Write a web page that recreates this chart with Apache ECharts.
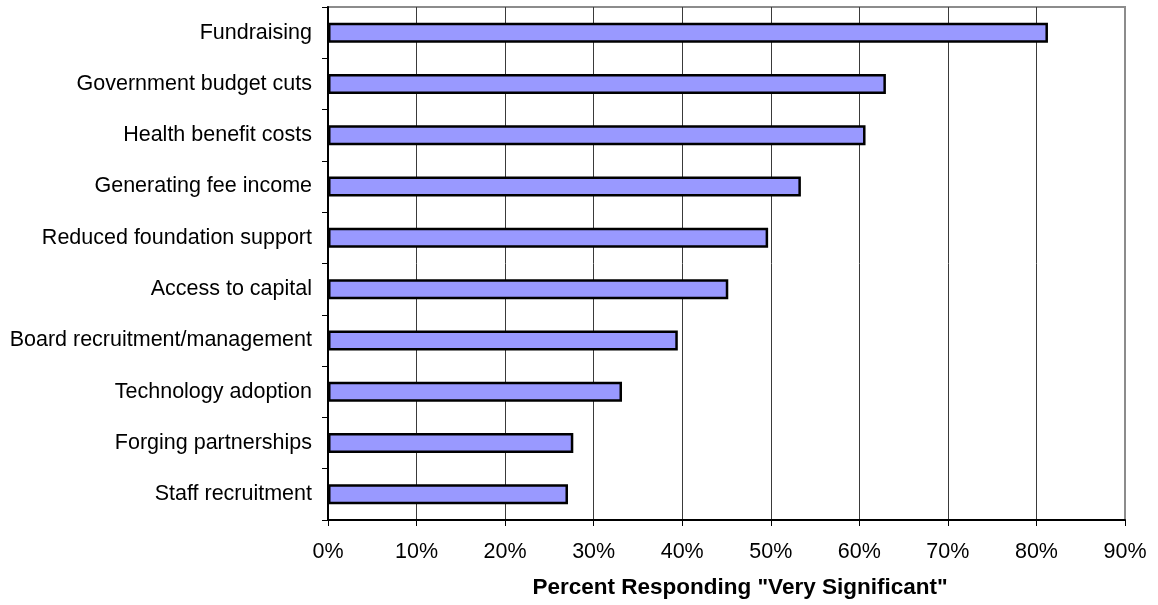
<!DOCTYPE html>
<html>
<head>
<meta charset="utf-8">
<script src="https://cdn.jsdelivr.net/npm/echarts@6/dist/echarts.min.js"></script>
<style>
  html, body { margin: 0; padding: 0; background: #ffffff; }
  #chart { width: 1158px; height: 605px; }
</style>
</head>
<body>
<div id="chart"></div>
<script>
// Challenges rated "very significant", top to bottom
const categories = [
  'Fundraising',
  'Government budget cuts',
  'Health benefit costs',
  'Generating fee income',
  'Reduced foundation support',
  'Access to capital',
  'Board recruitment/management',
  'Technology adoption',
  'Forging partnerships',
  'Staff recruitment'
];
const percentVerySignificant = [81.3, 63.0, 60.7, 53.4, 49.7, 45.2, 39.5, 33.2, 27.7, 27.1];
const xTicks = { min: 0, max: 90, step: 10 };
const axisTitle = 'Percent Responding "Very Significant"';

const FONT = '"Liberation Sans", Arial, sans-serif';

const chart = echarts.init(document.getElementById('chart'), null, { renderer: 'canvas' });

chart.setOption({
  animation: false,
  backgroundColor: '#ffffff',
  grid: {
    left: 328,
    right: 33,
    top: 7,
    bottom: 85,
    show: true,
    borderColor: '#8c8c8c',
    borderWidth: 2,
    backgroundColor: 'transparent'
  },
  xAxis: {
    type: 'value',
    min: xTicks.min,
    max: xTicks.max,
    interval: xTicks.step,
    axisLine: { show: true, lineStyle: { color: '#000', width: 2 } },
    axisTick: { show: true, length: 6, lineStyle: { color: '#000', width: 1 } },
    axisLabel: {
      formatter: '{value}%',
      margin: 21,
      color: '#000',
      fontFamily: FONT,
      fontSize: 21.5
    },
    splitLine: {
      show: true,
      showMinLine: false,
      showMaxLine: false,
      lineStyle: { color: '#3a3a3a', width: 1 }
    }
  },
  yAxis: {
    type: 'category',
    data: categories,
    inverse: true,
    axisLine: { show: true, lineStyle: { color: '#000', width: 2 } },
    axisTick: { show: true, length: 6, lineStyle: { color: '#000', width: 1 } },
    axisLabel: {
      margin: 16,
      color: '#000',
      fontFamily: FONT,
      fontSize: 21.5
    },
    splitLine: { show: false }
  },
  graphic: [{
    type: 'text',
    x: 740,
    y: 588,
    style: {
      text: axisTitle,
      fill: '#000',
      font: 'bold 22.5px ' + FONT,
      textAlign: 'center',
      textVerticalAlign: 'middle'
    }
  }],
  series: [{
    type: 'bar',
    data: percentVerySignificant,
    barWidth: 20,
    itemStyle: {
      color: '#9999ff',
      borderColor: '#000',
      borderWidth: 2.5
    }
  }]
});
</script>
</body>
</html>
